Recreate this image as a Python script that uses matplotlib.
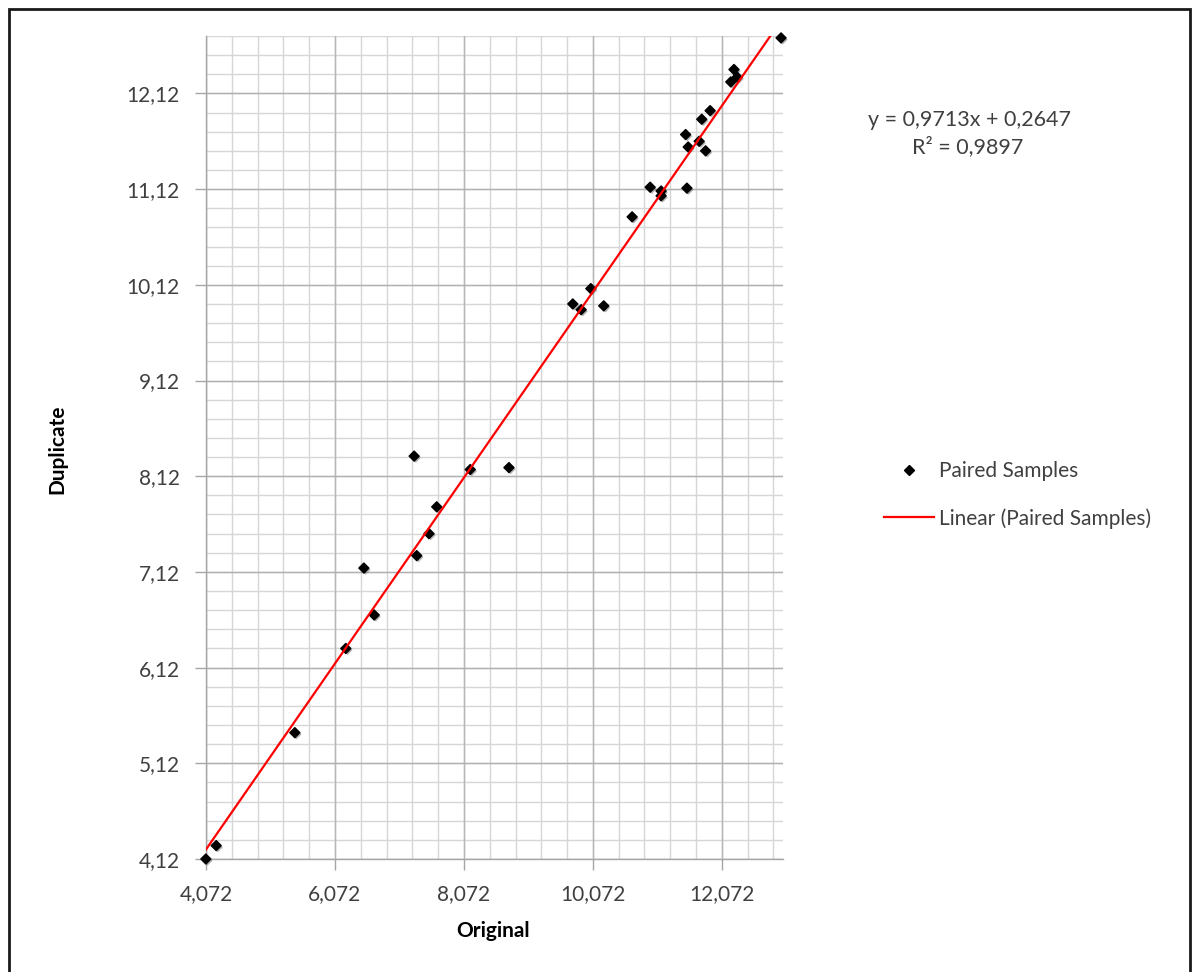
import numpy as np
import matplotlib
matplotlib.use("Agg")
import matplotlib.pyplot as plt
import matplotlib.patheffects as pe
from matplotlib.lines import Line2D
from matplotlib.patches import Rectangle

plt.rcParams['font.family'] = ['Lato', 'DejaVu Sans']

# Paired samples
original = [4.07, 4.23, 5.45, 6.24, 6.52, 6.68, 7.30, 7.34, 7.53, 7.65, 8.17, 8.77,
            9.76, 9.89, 10.04, 10.24, 10.68, 10.96, 11.13, 11.13, 11.53, 11.51,
            11.55, 11.72, 11.82, 11.76, 11.89, 12.21, 12.26, 12.31, 12.99]
duplicate = [4.12, 4.26, 5.44, 6.32, 7.16, 6.67, 8.33, 7.29, 7.52, 7.80, 8.19, 8.21,
             9.92, 9.86, 10.08, 9.90, 10.83, 11.14, 11.10, 11.05, 11.13, 11.69,
             11.56, 11.62, 11.52, 11.85, 11.94, 12.24, 12.37, 12.29, 12.70]

# Trendline shown on the chart
slope = 0.9713
intercept = 0.2647
r_squared = 0.9897

xticks = [4.072, 6.072, 8.072, 10.072, 12.072]
xtick_labels = ['4,072', '6,072', '8,072', '10,072', '12,072']
yticks = [4.12, 5.12, 6.12, 7.12, 8.12, 9.12, 10.12, 11.12, 12.12]
ytick_labels = ['4,12', '5,12', '6,12', '7,12', '8,12', '9,12', '10,12', '11,12', '12,12']

fig = plt.figure(figsize=(11.97, 9.72), dpi=100)
ax = fig.add_axes([206 / 1197, 1 - 859 / 972, 577 / 1197, 823 / 972])

# grid: minor every 0.4 / 0.2, major at labelled values
x_minor = np.arange(4.072, 13.0, 0.4)
y_minor = np.arange(4.12, 12.73, 0.2)
for xv in x_minor:
    ax.axvline(xv, color='#d6d6d6', lw=1.0, zorder=0)
for yv in y_minor:
    ax.axhline(yv, color='#d6d6d6', lw=1.0, zorder=0)
for xv in xticks:
    ax.axvline(xv, color='#b5b5b5', lw=1.0, zorder=0.5)
for yv in yticks:
    ax.axhline(yv, color='#b0b0b0', lw=1.0, zorder=0.5)

ax.scatter(original, duplicate, marker='D', s=26, color='black', zorder=3, clip_on=False,
           path_effects=[pe.SimplePatchShadow(offset=(1.2, -1.2), shadow_rgbFace='#666666', alpha=0.5),
                         pe.Normal()])

xs = np.array([min(original), max(original)])
ax.plot(xs, slope * xs + intercept, color='#ff0000', lw=1.6, zorder=4)

ax.set_xlim(4.072, 13.02)
ax.set_ylim(4.12, 12.72)
ax.set_xticks(xticks)
ax.set_xticklabels(xtick_labels)
ax.set_yticks(yticks)
ax.set_yticklabels(ytick_labels)
ax.tick_params(axis='both', length=8, width=1, color='#a6a6a6', labelsize=15, labelcolor='#404040')
ax.tick_params(axis='x', pad=10)
ax.tick_params(axis='y', pad=11)
for side in ['top', 'right']:
    ax.spines[side].set_visible(False)
for side in ['left', 'bottom']:
    ax.spines[side].set_color('#a6a6a6')
    ax.spines[side].set_linewidth(1.0)

ax.set_xlabel('Original', fontsize=15, fontweight='bold')
ax.xaxis.set_label_coords(0.497, -0.087)
ax.xaxis.label.set_va('center')
ax.set_ylabel('Duplicate', fontsize=15, fontweight='bold')
ax.yaxis.set_label_coords(-0.258, 0.498)
ax.yaxis.label.set_va('center')

# equation
fig.text(970 / 1197, 1 - 120 / 972, 'y = 0,9713x + 0,2647', ha='center', va='center',
         fontsize=15.5, color='#404040')
fig.text(968 / 1197, 1 - 147 / 972, 'R² = 0,9897', ha='center', va='center',
         fontsize=15.5, color='#404040')

handles = [Line2D([], [], marker='D', color='black', linestyle='none', markersize=5),
           Line2D([], [], color='#ff0000', lw=1.6)]
fig.legend(handles, ['Paired Samples', 'Linear (Paired Samples)'],
           loc='upper left', bbox_to_anchor=(884 / 1197, 1 - 461 / 972),
           frameon=False, fontsize=15, labelcolor='#404040', borderpad=0,
           borderaxespad=0, handlelength=2.4, handletextpad=0.25, labelspacing=1.3)

fig.patches.append(Rectangle((9 / 1197, -0.05), 1181 / 1197, 1.05 - 9 / 972,
                             transform=fig.transFigure, fill=False,
                             edgecolor='#1a1a1a', lw=2))

fig.savefig('out.png', dpi=100)
